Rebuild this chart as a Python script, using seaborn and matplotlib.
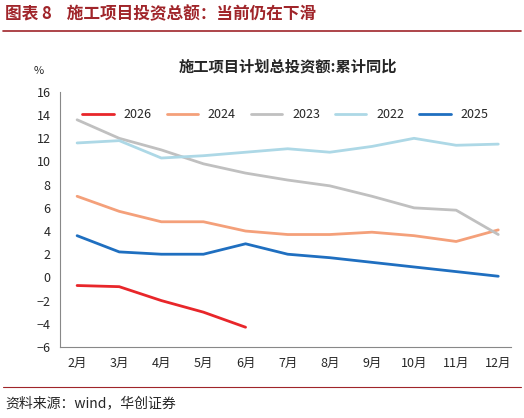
import matplotlib
matplotlib.use("Agg")
import matplotlib.pyplot as plt
import seaborn as sns
import pandas as pd

months = ["2月","3月","4月","5月","6月","7月","8月","9月","10月","11月","12月"]
s2026 = [-0.7, -0.8, -2.0, -3.0, -4.3]
s2024 = [7.0, 5.7, 4.8, 4.8, 4.0, 3.7, 3.7, 3.9, 3.6, 3.1, 4.1]
s2023 = [13.6, 12.0, 11.0, 9.8, 9.0, 8.4, 7.9, 7.0, 6.0, 5.8, 3.7]
s2022 = [11.6, 11.8, 10.3, 10.5, 10.8, 11.1, 10.8, 11.3, 12.0, 11.4, 11.5]
s2025 = [3.6, 2.2, 2.0, 2.0, 2.9, 2.0, 1.7, 1.3, 0.9, 0.5, 0.1]
series = {"2026": s2026, "2024": s2024, "2023": s2023, "2022": s2022, "2025": s2025}
colors = {"2026": "#e8262a", "2024": "#f4a07a", "2023": "#c0c0c0", "2022": "#add8e6", "2025": "#1f6fc0"}

rows = []
for k, v in series.items():
    for i, y in enumerate(v):
        rows.append({"x": i, "y": y, "s": k})
df = pd.DataFrame(rows)

sns.set_style("white")
plt.rcParams['font.family'] = ['Noto Sans CJK SC', 'DejaVu Sans']
fig = plt.figure(figsize=(5.24, 4.18), dpi=100)
ax = fig.add_axes([0.115, 0.17, 0.86, 0.61])
sns.lineplot(data=df, x="x", y="y", hue="s", palette=colors, hue_order=list(series.keys()), linewidth=2, ax=ax)
ax.set_xticks(range(len(months)))
ax.set_xticklabels(months, fontsize=9)
ax.set_xlim(-0.4, 10.3)
ax.set_ylim(-6, 16)
ax.set_yticks(range(-6, 17, 2))
ax.tick_params(axis='y', labelsize=9)
ax.set_xlabel(""); ax.set_ylabel("")
for sp in ["top", "right"]:
    ax.spines[sp].set_visible(False)
ax.spines["left"].set_color("#888")
ax.spines["bottom"].set_color("#888")
ax.legend(ncol=5, frameon=False, loc="upper center", bbox_to_anchor=(0.5, 0.98), fontsize=9, handlelength=2.5, columnspacing=1.2)
ax.text(-0.06, 1.07, "%", transform=ax.transAxes, fontsize=8)
fig.text(0.55, 0.83, "施工项目计划总投资额:累计同比", ha="center", fontsize=11, fontweight="bold")
fig.text(0.01, 0.955, "图表 8    施工项目投资总额：当前仍在下滑", fontsize=12, fontweight="bold", color="#a0252a")
fig.add_artist(plt.Line2D([0.005, 0.995], [0.925, 0.925], color="#a0252a", lw=1.2))
fig.add_artist(plt.Line2D([0.005, 0.995], [0.075, 0.075], color="#a0252a", lw=0.8))
fig.text(0.01, 0.025, "资料来源：wind，华创证券", fontsize=10, style="italic")
fig.savefig("out.png", dpi=100)
